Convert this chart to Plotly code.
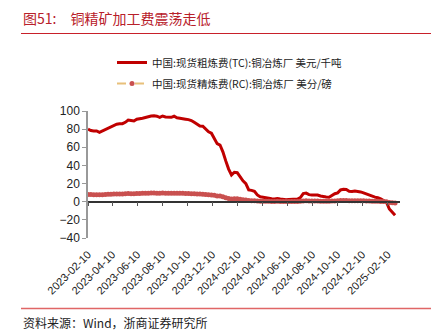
import pandas as pd
import plotly.graph_objects as go

# Weekly observation dates (Fridays)
dates = pd.date_range("2023-02-10", periods=108, freq="7D")

# China spot copper concentrate treatment charge, USD/t
tc_values = [
    80, 78.5, 78, 78, 76.5, 78, 80, 81.5, 83, 84.3,
    85.5, 86, 86, 87.5, 90, 89.5, 89, 90.9, 91.2, 92,
    92.8, 94, 94.5, 94.7, 94.3, 93, 94.5, 93.5, 93.5, 93,
    94.2, 92.5, 92, 91.8, 91, 90.5, 89.5, 87.5, 85, 83.5,
    83.2, 80, 77, 75.5, 70, 64, 62.5, 55, 45, 36,
    29.5, 32.5, 32, 27.5, 23, 20, 13, 12.5, 11.5, 7.5,
    5.5, 5, 4.2, 3.8, 3.2, 3, 3.5, 3, 2.5, 2.2,
    2.5, 2.8, 3, 3, 4.5, 9, 9.5, 7.8, 7.4, 7.4,
    7.4, 6.3, 5.5, 5.2, 5, 7, 8.8, 9.8, 13, 13.7,
    13.5, 11.5, 11.2, 11.8, 11.5, 10.8, 9.8, 8.6, 7.2, 5.8,
    5, 4.3, 3.2, 1.2, -0.5, -8, -11.5, -15,
]

# China spot refining charge, US cents/lb
rc_values = [
    8.0, 7.9, 7.8, 7.8, 7.7, 7.8, 8.0, 8.1, 8.3, 8.4,
    8.5, 8.6, 8.6, 8.8, 9.0, 8.9, 8.9, 9.1, 9.1, 9.2,
    9.3, 9.4, 9.5, 9.5, 9.4, 9.3, 9.5, 9.4, 9.4, 9.3,
    9.4, 9.3, 9.2, 9.2, 9.1, 9.0, 8.9, 8.8, 8.5, 8.4,
    8.3, 8.0, 7.7, 7.5, 7.0, 6.4, 6.2, 5.5, 4.5, 3.6,
    3.0, 3.2, 3.2, 2.8, 2.3, 2.0, 1.3, 1.2, 1.1, 0.8,
    0.6, 0.5, 0.4, 0.4, 0.3, 0.3, 0.4, 0.3, 0.2, 0.2,
    0.2, 0.3, 0.3, 0.3, 0.4, 0.9, 1.0, 0.8, 0.7, 0.7,
    0.7, 0.6, 0.6, 0.5, 0.5, 0.7, 0.9, 1.0, 1.3, 1.4,
    1.3, 1.2, 1.1, 1.2, 1.2, 1.1, 1.0, 0.9, 0.7, 0.6,
    0.5, 0.4, 0.3, 0.1, -0.1, -0.8, -1.2, -1.5,
]

tick_labels = [
    "2023-02-10", "2023-04-10", "2023-06-10", "2023-08-10", "2023-10-10",
    "2023-12-10", "2024-02-10", "2024-04-10", "2024-06-10", "2024-08-10",
    "2024-10-10", "2024-12-10", "2025-02-10",
]
y_ticks = [100, 80, 60, 40, 20, 0, -20, -40]

tc_name = "中国:现货粗炼费(TC):铜冶炼厂 美元/千吨"
rc_name = "中国:现货精炼费(RC):铜冶炼厂 美分/磅"

W, H = 442, 335
ML, MR, MT, MB = 88, 42, 111, 97
PW, PH = W - ML - MR, H - MT - MB
Y_MIN, Y_MAX = -40, 100
X_RANGE = ["2023-02-10", "2025-03-12"]


def px_x(px):
    return (px - ML) / PW


def px_y(py):
    return (H - MB - py) / PH


CJK = "Noto Sans CJK SC"
LATIN = "Liberation Sans, Arial, sans-serif"

fig = go.Figure()

fig.add_trace(go.Scatter(
    x=dates, y=tc_values, name=tc_name, mode="lines",
    line=dict(color="#c00000", width=3),
    legendgroup="tc",
))
fig.add_trace(go.Scatter(
    x=dates, y=rc_values, name=rc_name, mode="lines+markers",
    line=dict(color="#e8c07a", width=2, dash="dash"),
    marker=dict(symbol="circle", size=5, color="#c9504f"),
    legendgroup="rc",
))
# carrier for the axis drawn along y = 0
fig.add_trace(go.Scatter(
    x=[dates[0]], y=[None], xaxis="x2", showlegend=False, hoverinfo="skip",
))

zero_pos = (0 - Y_MIN) / (Y_MAX - Y_MIN)

fig.update_layout(
    width=W, height=H,
    margin=dict(l=ML, r=MR, t=MT, b=MB, pad=0),
    paper_bgcolor="white", plot_bgcolor="white",
    showlegend=True,
    legend=dict(
        x=px_x(112), y=px_y(48), xanchor="left", yanchor="top",
        font=dict(family=CJK, size=10.5, color="#222"),
        bgcolor="rgba(0,0,0,0)", tracegroupgap=2,
        traceorder="grouped",
    ),
    xaxis=dict(
        type="date", range=X_RANGE,
        tickvals=tick_labels, ticktext=tick_labels, tickangle=-45,
        showgrid=False, zeroline=False, showline=False, ticks="",
        ticklabelstandoff=7,
        tickfont=dict(family=LATIN, size=11, color="#222"),
    ),
    xaxis2=dict(
        type="date", range=X_RANGE, overlaying="x", anchor="free",
        position=zero_pos, side="bottom",
        tickvals=tick_labels, showticklabels=False,
        showgrid=False, zeroline=False,
        showline=True, linecolor="#333", linewidth=1.5,
        ticks="outside", ticklen=4, tickcolor="#555", tickwidth=1,
    ),
    yaxis=dict(
        range=[Y_MIN, Y_MAX], tickvals=y_ticks,
        showgrid=False, zeroline=False,
        showline=True, linecolor="#999", linewidth=1.5,
        ticks="outside", ticklen=4, tickcolor="#999",
        tickfont=dict(family=LATIN, size=12, color="#222"),
    ),
)

# heading, rules and source note
fig.add_annotation(
    x=px_x(21), y=px_y(18), xref="paper", yref="paper",
    xanchor="left", yanchor="middle", showarrow=False,
    text="图51:\u3000铜精矿加工费震荡走低",
    font=dict(family=CJK, size=14, color="#b8202a"),
)
fig.add_shape(
    type="line", xref="paper", yref="paper",
    x0=px_x(21), x1=px_x(431), y0=px_y(33.5), y1=px_y(33.5),
    line=dict(color="#c8202a", width=1.2),
)
fig.add_shape(
    type="line", xref="paper", yref="paper",
    x0=px_x(21), x1=px_x(431), y0=px_y(308.5), y1=px_y(308.5),
    line=dict(color="#e06666", width=1.5),
)
fig.add_annotation(
    x=px_x(21), y=px_y(322), xref="paper", yref="paper",
    xanchor="left", yanchor="middle", showarrow=False,
    text="资料来源：Wind，浙商证券研究所",
    font=dict(family=CJK, size=12, color="#222"),
)

fig.write_html("out.html")
